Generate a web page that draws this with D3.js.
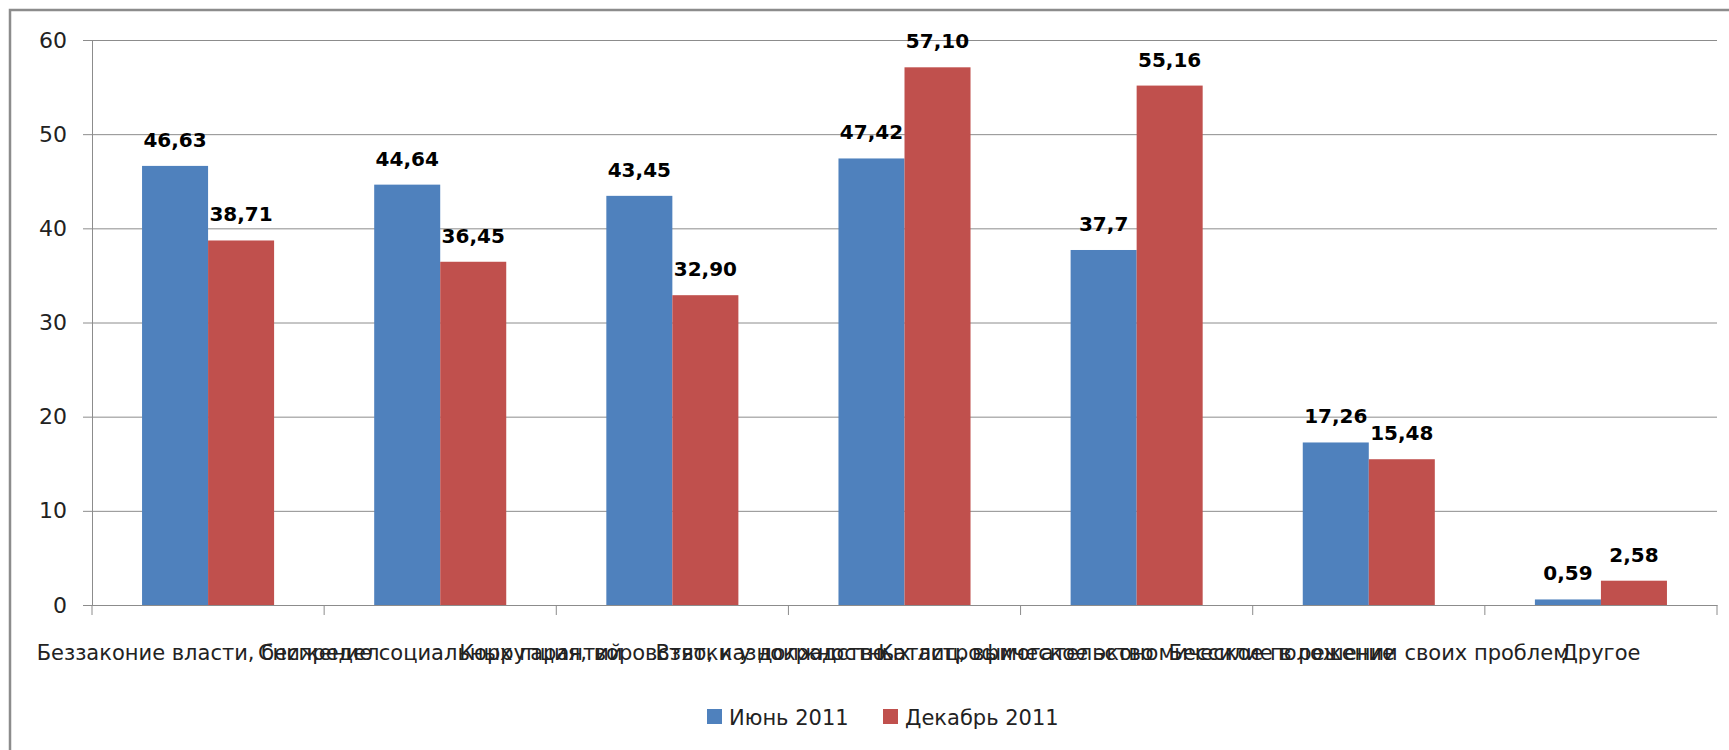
<!DOCTYPE html>
<meta charset="utf-8">
<script src="https://cdn.jsdelivr.net/npm/d3@7"></script>
<style>
	body{margin:0;background:#fff;font-family:"DejaVu Sans",sans-serif;}
	svg{display:block;}
</style>
<div id="chart"></div>
<script>
// categories (long labels overlap, as in the original)
var categories = ["Беззаконие власти, беспредел",
"Снижение социальных гарантий",
"Коррупция, воровство, казнокрадство",
"Взятки у должностных лиц, вымогательство",
"Катастрофическое экономическое положение",
"Бессилие в решении своих проблем",
"Другое"]
var series = ["Июнь 2011","Декабрь 2011"]
var june = [46.63,44.64,43.45,47.42,37.7,17.26,0.59]
var dec = [38.71,36.45,32.90,57.10,55.16,15.48,2.58]
var juneLabels = ["46,63","44,64","43,45","47,42","37,7","17,26","0,59"]
var decLabels = ["38,71","36,45","32,90","57,10","55,16","15,48","2,58"]
var yTicks = [0,10,20,30,40,50,60]
var colors = ["#4F81BD","#C0504D"]

var width = 1729
var height = 750
var m = {left:92, right:12, top:40, bottom:145}
var font = "DejaVu Sans"

var svg = d3.select("#chart").append("svg")
	.attr("width",width)
	.attr("height",height)

// outer frame (runs off the right and bottom edge)
svg.append("rect")
	.attr("x",10).attr("y",10)
	.attr("width",width+20).attr("height",height+20)
	.attr("fill","none").attr("stroke","#8c8c8c").attr("stroke-width",2.5)

var x = d3.scaleBand().domain(categories).range([m.left,width-m.right])
var xSub = d3.scaleBand().domain(series).range([0,x.bandwidth()]).paddingOuter(0.758)
var y = d3.scaleLinear().domain([0,60]).range([height-m.bottom,m.top])

// gridlines
svg.append("g")
	.attr("transform","translate("+m.left+",0)")
	.call(d3.axisLeft(y).tickValues(yTicks).tickSize(-(width-m.right-m.left)).tickFormat(""))
	.call(function(g){
		g.select(".domain").remove()
		g.selectAll("line").attr("stroke","#8c8c8c").attr("stroke-width",1)
	})

// y axis
svg.append("g")
	.attr("transform","translate("+m.left+",0)")
	.call(d3.axisLeft(y).tickValues(yTicks).tickSize(9).tickPadding(16))
	.call(function(g){
		g.select(".domain").attr("stroke","#8c8c8c")
		g.selectAll("line").attr("stroke","#8c8c8c")
		g.selectAll("text").attr("font-size","22px").attr("fill","#222").attr("font-family",font)
	})

var rows = categories.map(function(c,i){return {cat:c,vals:[june[i],dec[i]],labs:[juneLabels[i],decLabels[i]]}})

var groups = svg.append("g").selectAll("g")
	.data(rows).enter().append("g")
	.attr("transform",function(d){return "translate("+x(d.cat)+",0)"})

groups.selectAll("rect")
	.data(function(d){return d.vals.map(function(v,j){return {s:series[j],v:v,lab:d.labs[j],j:j}})})
	.enter().append("rect")
	.attr("x",function(d){return xSub(d.s)})
	.attr("width",xSub.bandwidth())
	.attr("y",function(d){return y(d.v)})
	.attr("height",function(d){return y(0)-y(d.v)})
	.attr("fill",function(d){return colors[d.j]})

groups.selectAll("text")
	.data(function(d){return d.vals.map(function(v,j){return {s:series[j],v:v,lab:d.labs[j]}})})
	.enter().append("text")
	.attr("x",function(d){return xSub(d.s)+xSub.bandwidth()/2})
	.attr("y",function(d){return y(d.v)-19})
	.attr("text-anchor","middle")
	.attr("font-size","20px").attr("font-weight","bold").attr("fill","#000")
	.text(function(d){return d.lab})

// x axis
svg.append("g")
	.attr("transform","translate(0,"+y(0)+")")
	.call(d3.axisBottom(x).tickSize(0).tickPadding(40))
	.call(function(g){
		g.select(".domain").attr("stroke","#8c8c8c")
		g.selectAll("text").attr("font-size","21px").attr("fill","#222").attr("font-family",font)
	})

// category boundary ticks
var bounds = categories.map(function(c){return x(c)}).concat([width-m.right])
svg.append("g").selectAll("line")
	.data(bounds).enter().append("line")
	.attr("x1",function(d){return d}).attr("x2",function(d){return d})
	.attr("y1",y(0)).attr("y2",y(0)+10)
	.attr("stroke","#8c8c8c")

// legend
var legendX = [707,883]
var legend = svg.append("g").selectAll("g")
	.data(series).enter().append("g")
	.attr("transform",function(d,i){return "translate("+legendX[i]+",709)"})
legend.append("rect").attr("width",15).attr("height",15)
	.attr("fill",function(d,i){return colors[i]})
legend.append("text").attr("x",22).attr("y",16)
	.attr("font-size","21px").attr("fill","#222")
	.text(function(d){return d})
</script>
